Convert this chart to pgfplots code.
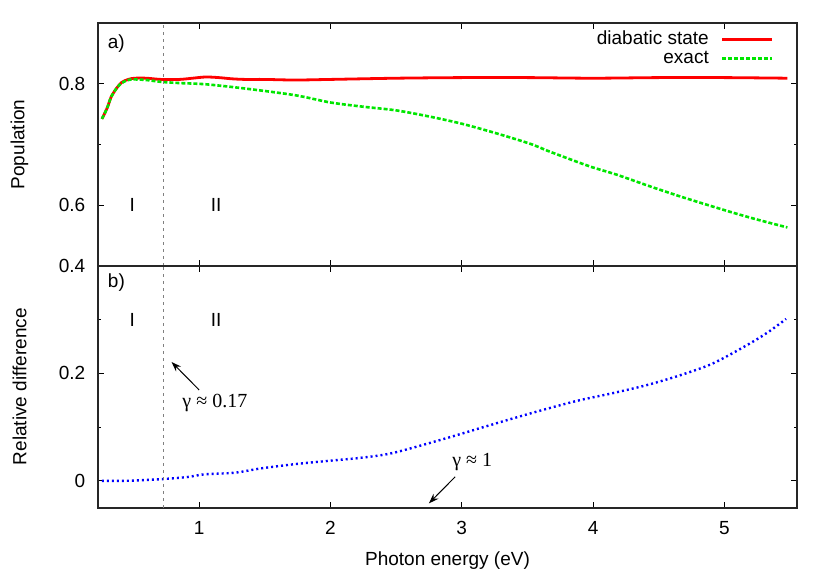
\documentclass[border=0pt]{standalone}
\usepackage{pgfplots}
\pgfplotsset{compat=1.18}
\usepackage{pgfplotstable}
\usepackage{fontspec}
\setmainfont{Liberation Sans}
\newfontfamily\seriffont{Liberation Serif}
\usetikzlibrary{arrows.meta}

\pgfplotstableread{
x y
0.26 0.742
0.30 0.760
0.33 0.778
0.37 0.792
0.41 0.802
0.46 0.807
0.51 0.809
0.60 0.809
0.71 0.807
0.85 0.807
0.95 0.809
1.05 0.811
1.15 0.810
1.25 0.808
1.35 0.807
1.50 0.807
1.73 0.806
2.00 0.807
2.50 0.809
3.00 0.810
3.50 0.810
4.00 0.809
4.50 0.810
5.00 0.810
5.48 0.809
}\diabatic

\pgfplotstableread{
x y
0.26 0.742
0.30 0.760
0.33 0.778
0.37 0.792
0.41 0.801
0.46 0.806
0.51 0.807
0.60 0.806
0.71 0.803
0.85 0.801
1.05 0.799
1.35 0.792
1.73 0.781
2.00 0.769
2.25 0.762
2.50 0.756
2.75 0.746
3.00 0.734
3.25 0.719
3.52 0.701
3.67 0.688
3.97 0.664
4.18 0.650
4.43 0.631
4.68 0.613
5.04 0.589
5.25 0.576
5.48 0.563
}\exact

\pgfplotstableread{
x y
0.26 0.000
0.45 0.000
0.71 0.003
0.91 0.007
1.04 0.012
1.27 0.015
1.47 0.023
1.73 0.031
1.98 0.037
2.24 0.043
2.48 0.052
2.88 0.079
3.14 0.098
3.39 0.116
3.65 0.134
3.90 0.150
4.15 0.163
4.41 0.178
4.66 0.196
4.91 0.218
5.17 0.252
5.33 0.276
5.47 0.301
}\reldiff

\pgfplotsset{
  panel/.style={
    scale only axis,
    width=349.5pt,
    xmin=0.23, xmax=5.553,
    xtick={1,2,3,4,5},
    tick align=inside,
    xtick pos=both, ytick pos=both,
    xticklabel pos=lower, yticklabel pos=left,
    major tick length=3pt,
    minor tick length=1.5pt,
    tick style={black, line width=0.5pt},
    axis line style={black!85, line width=0.9pt},
    /pgf/number format/assume math mode=true,
    yticklabel style={anchor=east, xshift=-3pt},
    ylabel style={at={(axis description cs:-0.1123,0.5)}, anchor=center},
    xlabel style={at={(axis description cs:0.5,0)}, yshift=-26.5pt, anchor=center},
    xticklabel style={anchor=base, yshift=-13.3pt},
  },
}

\begin{document}
\fontsize{9.5}{11}\selectfont
\begin{tikzpicture}
\useasboundingbox (0,0) rectangle (415pt,290.5pt);

% top panel
\begin{axis}[panel,
  at={(49pt,157.65pt)}, anchor=south west,
  height=121.35pt,
  ymin=0.5, ymax=0.9,
  ytick={0.6,0.8},
  minor ytick={0.7},
  yticklabels={0.6,0.8},
  xticklabels={},
  ylabel={Population},
  legend cell align=right,
  legend plot pos=right,
  legend image code/.code={\draw[#1] (0pt,0pt) -- (25pt,0pt);},
  legend style={draw=none, fill=none, at={(axis description cs:1,1)}, anchor=north east,
    xshift=-11.5pt, yshift=-3.4pt, inner sep=0pt, row sep=0pt,
    nodes={inner sep=0pt, text height=7pt, text depth=2.5pt},
    /tikz/every odd column/.append style={column sep=6pt}},
]
\addplot[red, line width=1.4pt, smooth, tension=0.5] table[x=x,y=y] {\diabatic};
\addlegendentry{diabatic state}
\addplot[color={rgb,255:red,0;green,230;blue,0}, line width=1.3pt, dash pattern=on 2pt off 1pt, smooth, tension=0.5] table[x=x,y=y] {\exact};
\addlegendentry{exact}
\addplot[gray, line width=0.6pt, dash pattern=on 1.5pt off 2pt, forget plot] coordinates {(0.73,0.5) (0.73,0.9)};
\node at (axis cs:0.37,0.866) {a)};
\node at (axis cs:0.49,0.6) {I};
\node at (axis cs:1.13,0.6) {II};
\end{axis}

% bottom panel
\begin{axis}[panel,
  at={(49pt,36.65pt)}, anchor=south west,
  height=121pt,
  ymin=-0.05, ymax=0.4,
  ytick={0,0.2,0.4},
  yticklabels={0,0.2,0.4},
  minor ytick={0.1,0.3},
  xticklabels={1,2,3,4,5},
  xlabel={Photon energy (eV)},
  ylabel={Relative difference},
]
\addplot[blue, line width=1.2pt, dash pattern=on 1pt off 1.5pt, smooth, tension=0.5] table[x=x,y=y] {\reldiff};
\addplot[gray, line width=0.6pt, dash pattern=on 1.5pt off 2pt, forget plot] coordinates {(0.73,-0.05) (0.73,0.4)};
\node at (axis cs:0.37,0.368) {b)};
\node at (axis cs:0.49,0.3) {I};
\node at (axis cs:1.13,0.3) {II};
\draw[-{Stealth[length=5pt,width=3.5pt]}, line width=0.5pt] (axis cs:1.0,0.169) -- (axis cs:0.79,0.221);
\node[font=\seriffont\fontsize{10}{12}\selectfont] at (axis cs:1.12,0.145) {γ ≈ 0.17};
\draw[-{Stealth[length=5pt,width=3.5pt]}, line width=0.5pt] (axis cs:2.95,0.0075) -- (axis cs:2.75,-0.042);
\node[font=\seriffont\fontsize{10}{12}\selectfont] at (axis cs:3.08,0.035) {γ ≈ 1};
\end{axis}
\end{tikzpicture}
\end{document}
